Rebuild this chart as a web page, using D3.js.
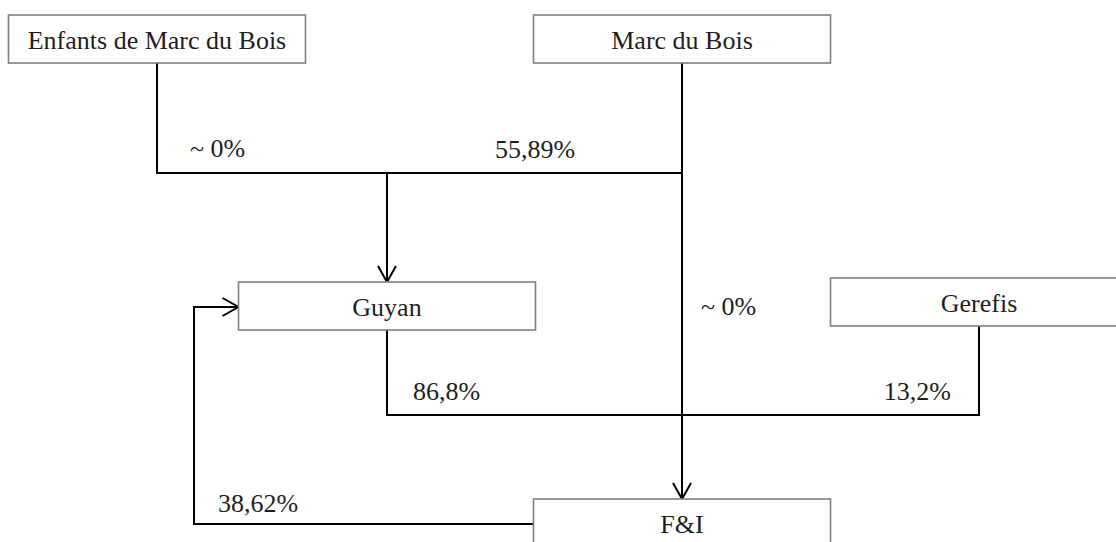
<!DOCTYPE html>
<html>
<head>
<meta charset="utf-8">
<script src="https://cdn.jsdelivr.net/npm/d3@7/dist/d3.min.js"></script>
<style>
	html, body { margin:0; padding:0; background:#fff; overflow:hidden; }
	.box { fill:#fff; stroke:#7f7f7f; stroke-width:1.6; }
	.link { fill:none; stroke:#000; stroke-width:2; }
	.lbl { font-family:"Liberation Serif", "Times New Roman", serif; font-size:26px; fill:#1e1e1e; }
</style>
</head>
<body>
<svg id="chart" width="1116" height="542"></svg>
<script>
// entities of the ownership structure
var entities = ['Enfants de Marc du Bois', 'Marc du Bois', 'Guyan', 'Gerefis', 'F&I'];
// holdings : owner -> owned, with the share label
var owners = ['Enfants de Marc du Bois', 'Marc du Bois', 'Marc du Bois', 'Guyan', 'Gerefis', 'F&I'];
var owned  = ['Guyan', 'Guyan', 'F&I', 'F&I', 'F&I', 'Guyan'];
var shares = ['~ 0%', '55,89%', '~ 0%', '86,8%', '13,2%', '38,62%'];

(function(){
	var svg = d3.select('#chart');
	var boxW = 297, boxH = 48;

	// layout of the diagram (column centres / row tops)
	var col = d3.scaleOrdinal()
		.domain(entities)
		.range([157, 682, 387, 979, 682]);
	var row = d3.scaleOrdinal()
		.domain(entities)
		.range([15, 15, 282, 278, 499]);

	var node = function(name){
		var cx = col(name), y = row(name);
		return { cx:cx, x:cx - boxW/2, y:y, top:y, bottom:y + boxH, left:cx - boxW/2, right:cx + boxW/2, mid:y + boxH/2 };
	};

	// junction levels where lines merge
	var mergeTop = d3.scaleLinear().domain([0,1]).range([node('Marc du Bois').bottom, node('Guyan').top]);
	var mergeBot = d3.scaleLinear().domain([0,1]).range([node('Guyan').bottom, node('F&I').top]);
	var yA = Math.round(mergeTop(0.5));        // ~173
	var yB = Math.round(mergeBot(0.5));        // ~415
	var xLoop = 194, yLoop = node('F&I').top + 25;

	svg.append('defs').append('marker')
		.attr('id', 'arr')
		.attr('markerUnits', 'userSpaceOnUse')
		.attr('viewBox', '-18 -11 20 22')
		.attr('markerWidth', 20).attr('markerHeight', 22)
		.attr('refX', 0).attr('refY', 0)
		.attr('orient', 'auto')
		.append('path')
		.attr('d', 'M-16,-9 L0,0 L-16,9')
		.attr('fill', 'none').attr('stroke', '#000').attr('stroke-width', 2);

	var paths = owners.map(function(o, i){
		var a = node(o), b = node(owned[i]);
		var p = d3.path();
		var arrow = false;
		if(i === 0){        // Enfants -> Guyan (down to junction, across, down)
			p.moveTo(a.cx, a.bottom); p.lineTo(a.cx, yA); p.lineTo(b.cx, yA); p.lineTo(b.cx, b.top); arrow = true;
		} else if(i === 1){ // Marc -> junction
			p.moveTo(a.cx, yA); p.lineTo(b.cx, yA);
		} else if(i === 2){ // Marc -> F&I
			p.moveTo(a.cx, a.bottom); p.lineTo(b.cx, b.top); arrow = true;
		} else if(i === 3 || i === 4){
			p.moveTo(a.cx, a.bottom); p.lineTo(a.cx, yB); p.lineTo(b.cx, yB);
		} else {            // F&I -> Guyan loop
			p.moveTo(a.left, yLoop); p.lineTo(xLoop, yLoop); p.lineTo(xLoop, b.top + 25); p.lineTo(b.left, b.top + 25); arrow = true;
		}
		return { d:p.toString(), arrow:arrow };
	});

	svg.selectAll('path.link')
		.data(paths)
		.enter().append('path')
		.attr('class', 'link')
		.attr('d', function(d){ return d.d; })
		.attr('marker-end', function(d){ return d.arrow ? 'url(#arr)' : null; });

	// boxes
	var g = svg.selectAll('g.node')
		.data(entities)
		.enter().append('g').attr('class', 'node');
	g.append('rect')
		.attr('class', 'box')
		.attr('x', function(d){ return node(d).x; })
		.attr('y', function(d){ return node(d).y; })
		.attr('width', boxW).attr('height', boxH);
	g.append('text')
		.attr('class', 'lbl')
		.attr('x', function(d){ return node(d).cx; })
		.attr('y', function(d){ return node(d).y + 34; })
		.attr('text-anchor', 'middle')
		.text(function(d){ return d; });

	// share labels, placed beside their line
	var labelPos = [
		{ x:node(owners[0]).cx + 33, y:yA - 16, a:'start' },
		{ x:node(owners[1]).cx - 187, y:yA - 15, a:'start' },
		{ x:node(owners[2]).cx + 19, y:node('Guyan').top + 33, a:'start' },
		{ x:node(owners[3]).cx + 26, y:yB - 15, a:'start' },
		{ x:node(owners[4]).cx - 28, y:yB - 15, a:'end' },
		{ x:xLoop + 24, y:yLoop - 12, a:'start' }
	];
	svg.selectAll('text.share')
		.data(shares)
		.enter().append('text')
		.attr('class', 'lbl share')
		.attr('x', function(d, i){ return labelPos[i].x; })
		.attr('y', function(d, i){ return labelPos[i].y; })
		.attr('text-anchor', function(d, i){ return labelPos[i].a; })
		.text(function(d){ return d; });
})();
</script>
</body>
</html>
